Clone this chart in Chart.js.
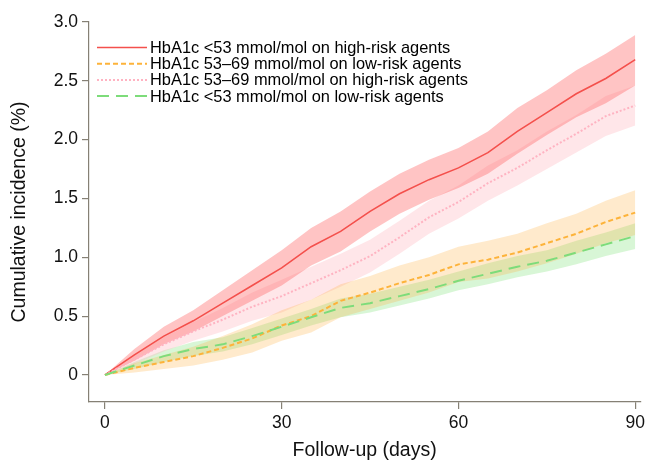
<!DOCTYPE html>
<html>
<head>
<meta charset="utf-8">
<script src="https://cdn.jsdelivr.net/npm/chart.js@4.4.0/dist/chart.umd.min.js"></script>
<style>
  html, body { margin: 0; padding: 0; background: #fff; }
  #wrap { width: 649px; height: 462px; }
</style>
</head>
<body>
<div id="wrap"><canvas id="incChart" width="649" height="462"></canvas></div>
<script>
// follow-up day grid
var days = [0, 5, 10, 15, 20, 25, 30, 35, 40, 45, 50, 55, 60, 65, 70, 75, 80, 85, 90];

// HbA1c <53 mmol/mol on high-risk agents
var redMid = [0, 0.17, 0.33, 0.46, 0.61, 0.76, 0.91, 1.09, 1.22, 1.39, 1.54, 1.66, 1.76, 1.89, 2.07, 2.23, 2.39, 2.52, 2.68];
var redHi  = [0, 0.22, 0.41, 0.55, 0.72, 0.89, 1.06, 1.25, 1.39, 1.56, 1.71, 1.83, 1.93, 2.07, 2.27, 2.42, 2.59, 2.73, 2.89];
var redLo  = [0, 0.12, 0.26, 0.37, 0.50, 0.63, 0.76, 0.93, 1.05, 1.22, 1.37, 1.49, 1.59, 1.71, 1.88, 2.04, 2.19, 2.31, 2.46];

// HbA1c 53-69 mmol/mol on low-risk agents
var orangeMid = [0, 0.06, 0.11, 0.16, 0.23, 0.31, 0.42, 0.50, 0.63, 0.70, 0.78, 0.85, 0.94, 0.98, 1.04, 1.12, 1.20, 1.30, 1.38];
var orangeHi  = [0, 0.10, 0.17, 0.24, 0.33, 0.43, 0.55, 0.64, 0.77, 0.84, 0.93, 1.00, 1.09, 1.14, 1.20, 1.29, 1.37, 1.48, 1.57];
var orangeLo  = [0, 0.02, 0.05, 0.08, 0.13, 0.19, 0.29, 0.36, 0.49, 0.56, 0.63, 0.70, 0.79, 0.82, 0.88, 0.95, 1.03, 1.12, 1.19];

// HbA1c 53-69 mmol/mol on high-risk agents
var pinkMid = [0, 0.13, 0.26, 0.37, 0.47, 0.58, 0.67, 0.78, 0.89, 1.01, 1.17, 1.34, 1.47, 1.63, 1.76, 1.91, 2.05, 2.20, 2.29];
var pinkHi  = [0, 0.17, 0.32, 0.45, 0.57, 0.70, 0.81, 0.92, 1.03, 1.15, 1.31, 1.48, 1.61, 1.78, 1.91, 2.07, 2.21, 2.37, 2.46];
var pinkLo  = [0, 0.09, 0.20, 0.29, 0.37, 0.46, 0.53, 0.64, 0.75, 0.87, 1.03, 1.20, 1.33, 1.48, 1.61, 1.75, 1.89, 2.03, 2.12];

// HbA1c <53 mmol/mol on low-risk agents
var greenMid = [0, 0.08, 0.16, 0.22, 0.26, 0.33, 0.41, 0.49, 0.57, 0.61, 0.67, 0.73, 0.80, 0.86, 0.92, 0.97, 1.04, 1.11, 1.18];
var greenHi  = [0, 0.11, 0.21, 0.28, 0.32, 0.40, 0.48, 0.56, 0.65, 0.69, 0.75, 0.81, 0.88, 0.95, 1.01, 1.06, 1.14, 1.21, 1.29];
var greenLo  = [0, 0.05, 0.11, 0.16, 0.20, 0.26, 0.34, 0.42, 0.49, 0.53, 0.59, 0.65, 0.72, 0.77, 0.83, 0.88, 0.94, 1.01, 1.07];

var xTicks = [0, 30, 60, 90];
var yTicks = [0, 0.5, 1.0, 1.5, 2.0, 2.5, 3.0];

var groups = [
  { label: "HbA1c <53 mmol/mol on high-risk agents", mid: redMid, hi: redHi, lo: redLo,
    line: "#f4504c", band: "rgba(255,100,100,0.38)", dash: [], width: 1.6 },
  { label: "HbA1c 53\u201369 mmol/mol on low-risk agents", mid: orangeMid, hi: orangeHi, lo: orangeLo,
    line: "#fdb33a", band: "rgba(255,170,50,0.25)", dash: [5, 3], width: 2 },
  { label: "HbA1c 53\u201369 mmol/mol on high-risk agents", mid: pinkMid, hi: pinkHi, lo: pinkLo,
    line: "#ffb3c2", band: "rgba(255,182,193,0.35)", dash: [2, 2], width: 2 },
  { label: "HbA1c <53 mmol/mol on low-risk agents", mid: greenMid, hi: greenHi, lo: greenLo,
    line: "#7ddc7a", band: "rgba(100,220,90,0.25)", dash: [12, 7], width: 2 }
];

function pts(arr) {
  return days.map(function (d, i) { return { x: d, y: arr[i] }; });
}

var datasets = [];
groups.forEach(function (g) {
  datasets.push({ data: pts(g.hi), borderWidth: 0, pointRadius: 0, fill: "+1",
    backgroundColor: g.band, order: 2 });
  datasets.push({ data: pts(g.lo), borderWidth: 0, pointRadius: 0, fill: false, order: 2 });
});
groups.forEach(function (g, i) {
  datasets.push({ label: g.label, data: pts(g.mid), borderColor: g.line, borderWidth: g.width,
    borderDash: g.dash, pointRadius: 0, fill: false, order: 1 - i * 0.1 });
});

var axisColor = "#858075";
var fontFam = "'Liberation Sans', Arial, Helvetica, sans-serif";

// draws legend (line sample + text) at top-left of plot
var lineLegend = {
  id: "lineLegend",
  afterDraw: function (chart) {
    var ctx = chart.ctx;
    var area = chart.chartArea;
    var x0 = area.left + 8, y0 = area.top + 25.5;
    ctx.save();
    ctx.font = "16.4px " + fontFam;
    ctx.textBaseline = "middle";
    groups.forEach(function (g, i) {
      var y = y0 + i * 16.2;
      ctx.strokeStyle = g.line;
      ctx.lineWidth = g.width;
      ctx.setLineDash(g.dash);
      ctx.beginPath();
      ctx.moveTo(x0, y);
      ctx.lineTo(x0 + 50, y);
      ctx.stroke();
      ctx.setLineDash([]);
      ctx.fillStyle = "#000";
      ctx.fillText(g.label, x0 + 53, y + 1);
    });
    ctx.restore();
  }
};

new Chart("incChart", {
  type: "line",
  data: { datasets: datasets },
  plugins: [lineLegend],
  options: {
    responsive: false,
    animation: false,
    layout: { padding: { top: 22, right: 6, left: 0, bottom: 0 } },
    plugins: { legend: { display: false }, tooltip: { enabled: false } },
    elements: { line: { tension: 0 } },
    scales: {
      x: {
        type: "linear",
        min: -2.7,
        max: 90.85,
        afterBuildTicks: function (scale) {
          scale.ticks = xTicks.map(function (v) { return { value: v }; });
        },
        afterFit: function (scale) { scale.height = 60; },
        ticks: { color: "#111", padding: 4, maxRotation: 0, font: { family: fontFam, size: 17.5 },
          callback: function (v) { return String(v); } },
        grid: { drawOnChartArea: false, drawTicks: true, tickLength: 7, color: axisColor, lineWidth: 1.2 },
        border: { display: true, color: axisColor, width: 1.2 },
        title: { display: true, text: "Follow-up (days)", color: "#111",
          font: { family: fontFam, size: 19.5 }, padding: { top: 0, bottom: 0 } }
      },
      y: {
        type: "linear",
        min: -0.23,
        max: 3.0,
        afterBuildTicks: function (scale) {
          scale.ticks = yTicks.map(function (v) { return { value: v }; });
        },
        afterFit: function (scale) { scale.width = 89; },
        ticks: { color: "#111", padding: 4, font: { family: fontFam, size: 17.5 },
          callback: function (v) { return v === 0 ? "0" : v.toFixed(1); } },
        grid: { drawOnChartArea: false, drawTicks: true, tickLength: 7, color: axisColor, lineWidth: 1.2 },
        border: { display: true, color: axisColor, width: 1.2 },
        title: { display: true, text: "Cumulative incidence (%)", color: "#111",
          font: { family: fontFam, size: 19.5 }, padding: { top: 8, bottom: 0 } }
      }
    }
  }
});
</script>
</body>
</html>
